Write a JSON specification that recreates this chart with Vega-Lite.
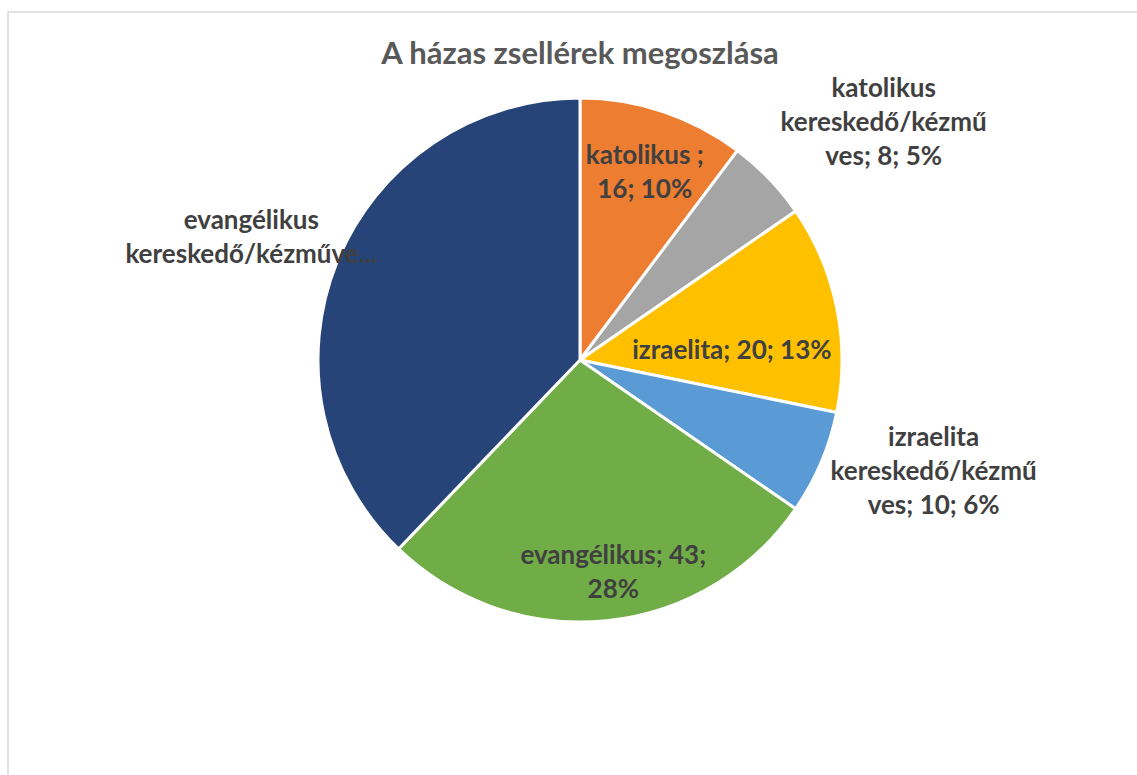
{
  "$schema": "https://vega.github.io/schema/vega-lite/v6.json",
  "width": 1144,
  "height": 790,
  "autosize": {"type": "none"},
  "padding": {"left": 8, "top": 12, "right": 0, "bottom": 0},
  "background": "white",
  "config": {"view": {"stroke": null}, "font": "Lato"},
  "data": {"values": [
    {"idx": 1, "category": "katolikus", "value": 16, "label": "katolikus ;\n16; 10%"},
    {"idx": 2, "category": "katolikus kereskedő/kézműves", "value": 8, "label": "katolikus\nkereskedő/kézmű\nves; 8; 5%"},
    {"idx": 3, "category": "izraelita", "value": 20, "label": "izraelita; 20; 13%"},
    {"idx": 4, "category": "izraelita kereskedő/kézműves", "value": 10, "label": "izraelita\nkereskedő/kézmű\nves; 10; 6%"},
    {"idx": 5, "category": "evangélikus", "value": 43, "label": "evangélikus; 43;\n28%"},
    {"idx": 6, "category": "evangélikus kereskedő/kézműves", "value": 59, "label": "evangélikus\nkereskedő/kézműve..."}
  ]},
  "layer": [
    {
      "data": {"values": [{"frame": 1}]},
      "mark": {"type": "rect", "fill": "white", "fillOpacity": 0, "stroke": "#D9D9D9", "strokeWidth": 1.5},
      "encoding": {}
    },
    {
      "data": {"values": [{"title": "A házas zsellérek megoszlása"}]},
      "mark": {"type": "text", "yOffset": -343, "fontSize": 31, "fontWeight": "bold", "font": "Lato", "fill": "#595959", "align": "center", "baseline": "alphabetic"},
      "encoding": {"text": {"field": "title"}}
    },
    {
      "mark": {"type": "arc", "radius": 262, "stroke": "white", "strokeWidth": 3, "yOffset": -47},
      "encoding": {
        "theta": {"field": "value", "type": "quantitative", "stack": true},
        "order": {"field": "idx", "type": "quantitative"},
        "color": {
          "field": "category", "type": "nominal",
          "scale": {
            "domain": ["katolikus", "katolikus kereskedő/kézműves", "izraelita", "izraelita kereskedő/kézműves", "evangélikus", "evangélikus kereskedő/kézműves"],
            "range": ["#ED7D31", "#A5A5A5", "#FFC000", "#5B9BD5", "#70AD47", "#264478"]
          },
          "legend": null
        }
      }
    },
    {
      "mark": {"type": "text", "radius": 195, "dx": 3, "dy": -19, "yOffset": -47, "fontSize": 26, "fontWeight": "bold", "font": "Lato", "fill": "#404040", "lineBreak": "\n", "lineHeight": 34, "align": "center", "baseline": "middle"},
      "encoding": {
        "theta": {"field": "value", "type": "quantitative", "stack": true},
        "order": {"field": "idx", "type": "quantitative"},
        "text": {"condition": {"test": "datum.idx === 1", "field": "label"}, "value": ""}
      }
    },
    {
      "mark": {"type": "text", "radius": 385, "dx": 26, "dy": -4, "yOffset": -47, "fontSize": 26, "fontWeight": "bold", "font": "Lato", "fill": "#404040", "lineBreak": "\n", "lineHeight": 34, "align": "center", "baseline": "middle"},
      "encoding": {
        "theta": {"field": "value", "type": "quantitative", "stack": true},
        "order": {"field": "idx", "type": "quantitative"},
        "text": {"condition": {"test": "datum.idx === 2", "field": "label"}, "value": ""}
      }
    },
    {
      "mark": {"type": "text", "radius": 155, "dx": 0, "dy": 22, "yOffset": -47, "fontSize": 26, "fontWeight": "bold", "font": "Lato", "fill": "#404040", "lineBreak": "\n", "lineHeight": 34, "align": "center", "baseline": "middle"},
      "encoding": {
        "theta": {"field": "value", "type": "quantitative", "stack": true},
        "order": {"field": "idx", "type": "quantitative"},
        "text": {"condition": {"test": "datum.idx === 3", "field": "label"}, "value": ""}
      }
    },
    {
      "mark": {"type": "text", "radius": 380, "dx": 4, "dy": -71, "yOffset": -47, "fontSize": 26, "fontWeight": "bold", "font": "Lato", "fill": "#404040", "lineBreak": "\n", "lineHeight": 34, "align": "center", "baseline": "middle"},
      "encoding": {
        "theta": {"field": "value", "type": "quantitative", "stack": true},
        "order": {"field": "idx", "type": "quantitative"},
        "text": {"condition": {"test": "datum.idx === 4", "field": "label"}, "value": ""}
      }
    },
    {
      "mark": {"type": "text", "radius": 212, "dx": 12, "dy": -15, "yOffset": -47, "fontSize": 26, "fontWeight": "bold", "font": "Lato", "fill": "#404040", "lineBreak": "\n", "lineHeight": 34, "align": "center", "baseline": "middle"},
      "encoding": {
        "theta": {"field": "value", "type": "quantitative", "stack": true},
        "order": {"field": "idx", "type": "quantitative"},
        "text": {"condition": {"test": "datum.idx === 5", "field": "label"}, "value": ""}
      }
    },
    {
      "mark": {"type": "text", "radius": 350, "dx": -4, "dy": -8, "yOffset": -47, "fontSize": 26, "fontWeight": "bold", "font": "Lato", "fill": "#404040", "lineBreak": "\n", "lineHeight": 34, "align": "center", "baseline": "middle"},
      "encoding": {
        "theta": {"field": "value", "type": "quantitative", "stack": true},
        "order": {"field": "idx", "type": "quantitative"},
        "text": {"condition": {"test": "datum.idx === 6", "field": "label"}, "value": ""}
      }
    }
  ]
}
